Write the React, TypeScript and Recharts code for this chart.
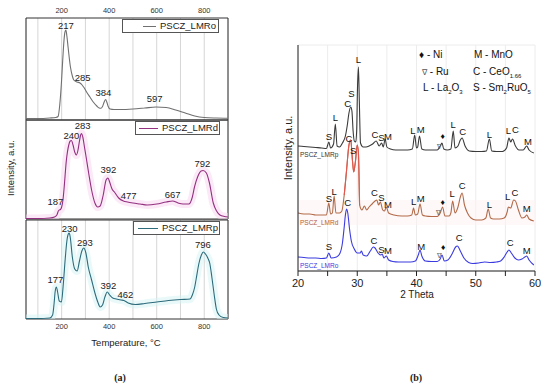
import React from 'react';
import { LineChart, Line, XAxis, YAxis, CartesianGrid, ReferenceArea, ReferenceDot } from 'recharts';

const FONT = '"Liberation Sans", Arial, sans-serif';

// ---------- (a) TPR profiles ----------
const tprTicks = [100, 200, 300, 400, 500, 600, 700, 800];
const tprYTicks = [12.5, 25, 37.5, 50, 62.5, 75, 87.5, 100];

const tempO = [50, 100, 150, 175, 185, 192, 199, 205, 210, 214, 218, 222, 227, 237, 245, 251, 265, 277, 286, 294, 305, 319, 333, 348, 358, 365, 372, 379, 385, 390, 395, 404, 420, 450, 500, 550, 597, 640, 680, 720, 760, 800, 850, 900];
const valO = [1.5, 1.5, 2, 2.5, 3.5, 15, 37, 62, 80, 88, 90, 84, 73, 53, 44, 40, 38, 37, 35, 32.5, 28, 23, 18, 14, 12, 11.7, 13.5, 18, 20.5, 18, 14, 11, 10.5, 10.5, 11, 12, 13, 12.5, 10, 7, 4, 2.5, 2, 1.8];

const tempD = [50, 100, 150, 170, 180, 186, 190, 195, 200, 205, 210, 220, 230, 236, 241, 248, 255, 262, 268, 275, 280, 284, 289, 296, 305, 315, 326, 340, 352, 362, 375, 387, 395, 402, 412, 422, 440, 460, 477, 500, 530, 560, 600, 640, 667, 690, 710, 735, 750, 759, 772, 787, 795, 809, 822, 838, 852, 866, 885, 900];
const valD = [0.5, 0.5, 1, 2, 4, 8, 9, 9.5, 12, 18, 30, 59, 74, 78, 78.5, 74, 67, 64, 68, 78, 84, 85.5, 82, 72, 59, 44, 29, 16, 12, 13, 24, 39, 41, 37, 30, 27, 21, 18, 17, 16, 15, 14, 15, 17, 18, 16, 15, 15, 22, 32, 42, 48, 48.5, 46, 36, 16, 8, 4, 2.5, 2];

const tempP = [50, 100, 150, 162, 168, 173, 178, 183, 190, 199, 207, 215, 222, 228, 232, 236, 245, 255, 265, 275, 285, 293, 302, 312, 326, 340, 352, 362, 372, 382, 392, 402, 415, 430, 450, 462, 480, 510, 550, 600, 650, 700, 740, 750, 760, 766, 778, 788, 796, 805, 815, 823, 832, 842, 851, 862, 880, 900];
const valP = [0.5, 0.5, 1, 4, 15, 28, 32, 27, 18, 17, 35, 60, 78, 85, 86, 82, 62, 50, 48, 58, 68, 71, 66, 52, 39, 26, 17, 12, 14, 22, 27, 24, 21, 20, 19, 18.5, 16, 14.5, 15.5, 17, 18.5, 19.5, 20, 24, 32, 40, 56, 64, 67, 65, 61, 56, 42, 24, 10, 4, 1.5, 1];

// peak annotations: text, temperature, height
const peakTxtO = ['217', '285', '384', '597'];
const peakTO = [218, 288, 376, 591];
const peakVO = [95, 42.7, 27.3, 21.7];
const peakTxtD = ['283', '240', '392', '477', '667', '792', '187'];
const peakTD = [288, 241, 397, 482, 667, 792, 174];
const peakVD = [94, 84, 49.7, 24, 25, 55.7, 18];
const peakTxtP = ['230', '293', '177', '392', '462', '796'];
const peakTP = [234, 298, 174, 397, 468, 794];
const peakVP = [91, 77, 40, 33.5, 24.5, 74.5];

// ---------- (b) XRD patterns ----------
const xrdTicks = [20, 25, 30, 35, 40, 45, 50, 55, 60];
const xrdYTicks = [5, 68, 130, 193];

const thetaP = [20, 21, 22, 23, 24, 24.8, 25.2, 25.5, 26.0, 26.3, 26.6, 27.0, 27.5, 28.0, 28.3, 28.6, 28.9, 29.1, 29.3, 29.5, 29.75, 29.9, 30.05, 30.2, 30.35, 30.55, 31, 31.5, 32, 32.6, 33.2, 33.7, 34.1, 34.4, 34.7, 35.0, 35.6, 36.5, 37.5, 38.5, 39.3, 39.7, 40.0, 40.2, 40.5, 40.9, 41.5, 42.5, 43.5, 44.0, 44.3, 44.6, 45.2, 45.8, 46.2, 46.5, 47.0, 47.4, 47.7, 48.2, 48.9, 50, 51, 51.8, 52.3, 52.7, 53.5, 54.5, 55.2, 55.6, 55.9, 56.2, 56.7, 57.3, 58.0, 58.6, 59.0, 59.8];
const intP = [125, 124.5, 124, 123.5, 123, 122.5, 129, 123, 127, 147, 125, 124, 128, 135, 145, 158, 164, 160, 140, 130, 129, 140, 185, 204, 170, 128, 124, 124, 125, 127, 130, 125, 128, 124, 132, 124, 122, 121, 121, 121, 122, 136, 123, 124, 135, 122, 121, 121, 121, 125, 128, 122, 121, 122, 140, 123, 125, 131, 133, 125, 120, 119.5, 119.5, 120, 132, 120, 119.5, 119.5, 123, 133, 129, 132, 125, 121, 121, 125, 121, 118];

const thetaD = [20, 21, 22, 23, 24, 24.8, 25.2, 25.5, 25.8, 26.1, 26.4, 27.0, 27.4, 27.8, 28.2, 28.6, 28.9, 29.2, 29.4, 29.7, 30.0, 30.2, 30.4, 30.8, 31.2, 31.6, 32.0, 32.5, 33.0, 33.3, 33.6, 33.9, 34.3, 34.6, 34.9, 35.3, 36.2, 37.5, 38.5, 39.2, 39.5, 39.8, 40.2, 40.6, 41.0, 41.5, 42.5, 43.5, 44.0, 44.4, 44.8, 45.5, 45.8, 46.1, 46.5, 47.0, 47.4, 47.7, 48.1, 48.6, 49.2, 50, 51, 51.7, 52.1, 52.5, 53, 54, 54.8, 55.3, 55.5, 55.9, 56.4, 56.7, 57.2, 57.8, 58.3, 58.6, 59.0, 59.8];
const intD = [58, 57, 57, 56, 56, 56, 68, 57, 58, 75, 58, 58, 60, 76, 101, 126, 131, 110, 99, 110, 126, 118, 66, 61, 65, 61, 64, 67, 70, 71, 66, 69, 61, 60, 64, 58, 56, 55, 55, 56, 63, 56, 57, 67, 56, 55, 54.5, 54.5, 58, 64, 55, 55, 58, 70, 58, 64, 74, 78, 66, 58, 53, 51, 51, 53, 62, 53, 52, 52, 53, 59, 64, 63, 71, 70, 61, 53, 54, 56, 52, 50];

const thetaO = [20, 21, 22, 23, 24, 24.8, 25.2, 25.6, 26.5, 27.1, 27.5, 27.8, 28.0, 28.2, 28.4, 28.7, 29.0, 29.5, 30.0, 30.5, 30.7, 31.0, 31.6, 32.2, 32.7, 33.0, 33.5, 34.0, 34.2, 34.5, 34.9, 35.3, 36.0, 37.0, 38.0, 39.0, 39.8, 40.3, 40.6, 40.9, 41.5, 42.5, 43.5, 44.0, 44.3, 44.7, 45.3, 46.0, 46.6, 46.9, 47.4, 48.0, 48.8, 49.5, 50.5, 51.5, 52.5, 53.5, 54.2, 54.8, 55.3, 55.6, 56.0, 56.6, 57.2, 57.8, 58.3, 58.6, 59.0, 59.8];
const intO = [14, 13.5, 13, 13, 12.5, 13, 18, 13, 14, 18, 28, 44, 56, 62, 58, 42, 30, 22, 18, 18, 20, 16, 15, 20, 24, 23, 18, 16, 17, 13, 15, 11, 9.5, 9, 9, 9, 10, 16, 21, 15, 10, 9.5, 9.5, 12, 16, 10, 11, 17, 24, 25, 20, 13, 8.5, 7.5, 8, 9, 8.5, 9, 10, 14, 19, 21, 18, 13, 11, 12, 14, 15, 11, 6];

// phase markers: letter, 2θ, height
const markTxt = ['S', 'L', 'C', 'S', 'L', 'C', 'S', 'M', 'L', 'M', '♦', '∇', 'L', 'C', 'L', 'L', 'C', 'M',
  'S', 'L', 'C', 'S', 'C', 'S', 'M', 'L', 'M', '♦', '∇', 'L', 'C', 'L', 'L', 'C', 'M',
  'S', 'C', 'C', 'S', 'M', 'M', '♦', '∇', 'C', 'C', 'M'];
const markT = [25.2, 26.3, 28.4, 29.0, 30.2, 33.0, 34.1, 35.2, 39.4, 40.7, 44.4, 43.8, 46.2, 47.8, 52.3, 55.5, 56.7, 58.8,
  25.2, 26.1, 28.6, 29.3, 32.9, 34.1, 35.2, 39.5, 40.7, 44.4, 43.7, 46.0, 47.7, 52.3, 55.4, 56.6, 58.6,
  25.2, 28.4, 32.8, 34.1, 35.2, 40.8, 44.5, 43.8, 47.2, 55.8, 58.6];
const markV = [134.3, 153.7, 167.7, 177.7, 211.7, 137, 133.7, 134.3, 140.3, 141.7, 135, 125, 146.7, 139.3, 137, 140.3, 141.7, 129.3,
  72.7, 80, 133, 121, 78.3, 73.7, 66.7, 69.3, 72.7, 69, 58.5, 77.7, 85.3, 67, 75, 78.7, 62.7,
  24.3, 68.7, 31, 21.7, 20.3, 24.3, 24, 15.5, 33.7, 28.3, 20.3];

const zip = (xs: number[], ys: number[]) => xs.map((t, i) => ({ t, v: ys[i] }));

const textShape = (txt: string, size: number, color: string) => (p: any) => (
  <text x={p.cx} y={p.cy} textAnchor="middle" dominantBaseline="central" fontSize={size}
    fill={color} fontFamily={FONT}>{txt}</text>
);

function TprChart({ top, bottom, yMax, temps, vals, color, band, txt, pt, pv, axis }: any) {
  const data = zip(temps, vals);
  const axH = axis ? 16 : 0;
  const mTop = axis === 'top' ? top - axH : top;
  const mBottom = axis === 'bottom' ? 388 - bottom - axH : 388 - bottom;
  return (
    <div style={{ position: 'absolute', left: 0, top: 0 }}>
      <LineChart width={550} height={388} margin={{ top: mTop, left: 26, right: 322, bottom: mBottom }}>
        <CartesianGrid horizontal={false} stroke="#d6d6d6" />
        <XAxis dataKey="t" type="number" domain={[50, 900]} ticks={tprTicks} allowDataOverflow height={axH}
          orientation={axis === 'top' ? 'top' : 'bottom'} axisLine={false} tickLine={false}
          tick={axis ? { fontSize: 7.5, fill: '#333', fontFamily: FONT } : false}
          interval={0}
          tickFormatter={(v: number) => (v % 200 === 0 ? String(v) : '')} tickSize={3} tickMargin={2} />
        <YAxis type="number" domain={[0, yMax]} ticks={tprYTicks.filter((t) => t < yMax)} allowDataOverflow
          width={1} mirror tick={false} axisLine={false} tickLine={{ stroke: '#444' }} tickSize={3} />
        {band && (
          <Line data={data} dataKey="v" type="monotone" stroke={band} strokeWidth={8} strokeOpacity={0.5}
            dot={false} activeDot={false} isAnimationActive={false} />
        )}
        <Line data={data} dataKey="v" type="monotone" stroke={color} strokeWidth={1.1}
          dot={false} activeDot={false} isAnimationActive={false} />
        <ReferenceArea x1={50} x2={900} y1={0} y2={yMax} fill="none" stroke="#333" strokeWidth={1} ifOverflow="visible" />
        {txt.map((s: string, i: number) => (
          <ReferenceDot key={i} x={pt[i]} y={pv[i]} r={0} ifOverflow="visible" shape={textShape(s, 9.5, '#222')} />
        ))}
      </LineChart>
    </div>
  );
}

function LegendBox({ left, top, width, color, name, lineLeft, lineW }: any) {
  return (
    <div style={{ position: 'absolute', left, top, width, height: 12, border: '1px solid #555', background: '#fff',
      fontFamily: FONT, fontSize: 9.5, color: '#222', lineHeight: '12px', whiteSpace: 'nowrap' }}>
      <span style={{ position: 'absolute', left: lineLeft, top: 6, width: lineW, borderTop: `1.2px solid ${color}` }} />
      <span style={{ position: 'absolute', left: lineLeft + lineW + 4, top: 0 }}>{name}</span>
    </div>
  );
}

const abs = (left: number, top: number, extra: any = {}) => ({
  position: 'absolute' as const, left, top, transform: 'translate(-50%, -50%)', whiteSpace: 'nowrap' as const,
  fontFamily: FONT, ...extra,
});

export default function App() {
  const xrdPData = zip(thetaP, intP);
  const xrdDData = zip(thetaD, intD);
  const xrdDRed = xrdDData.filter((d) => d.t >= 27.8 && d.t <= 30.4);
  const xrdOData = zip(thetaO, intO);

  return (
    <div style={{ position: 'absolute', left: 0, top: 0, width: 550, height: 388, background: '#fff', overflow: 'hidden' }}>
      <TprChart top={18} bottom={120} yMax={102} temps={tempO} vals={valO} color="#707070"
        txt={peakTxtO} pt={peakTO} pv={peakVO} axis="top" />
      <TprChart top={120} bottom={219} yMax={99} temps={tempD} vals={valD} color="#93307f" band="#f8d3ef"
        txt={peakTxtD} pt={peakTD} pv={peakVD} />
      <TprChart top={220} bottom={319} yMax={99} temps={tempP} vals={valP} color="#2d6b7b" band="#d3f3f4"
        txt={peakTxtP} pt={peakTP} pv={peakVP} axis="bottom" />

      <div style={{ position: 'absolute', left: 0, top: 0 }}>
        <LineChart width={550} height={388} margin={{ top: 45, left: 297, right: 15, bottom: 97 }}>
          <ReferenceArea x1={20} x2={60} y1={46} y2={71} fill="#fef2f4" stroke="none" />
          <CartesianGrid stroke="#ececec" />
          <XAxis dataKey="t" type="number" domain={[20, 60]} ticks={xrdTicks} allowDataOverflow height={20}
            interval={0} tickSize={5} tickMargin={3} axisLine={{ stroke: '#222' }} tickLine={{ stroke: '#222' }}
            tick={{ fontSize: 11, fill: '#222', fontFamily: FONT }}
            tickFormatter={(v: number) => (v % 10 === 0 ? String(v) : '')} />
          <YAxis type="number" domain={[0, 226]} ticks={xrdYTicks} allowDataOverflow width={1}
            tick={false} tickLine={false} axisLine={{ stroke: '#222' }} />
          <Line data={xrdOData} dataKey="v" type="monotone" stroke="#3b3be0" strokeWidth={1.1}
            dot={false} activeDot={false} isAnimationActive={false} />
          <Line data={xrdDData} dataKey="v" type="monotone" stroke="#b26a48" strokeWidth={1.1}
            dot={false} activeDot={false} isAnimationActive={false} />
          <Line data={xrdDRed} dataKey="v" type="monotone" stroke="#e4574f" strokeWidth={1.1}
            dot={false} activeDot={false} isAnimationActive={false} />
          <Line data={xrdPData} dataKey="v" type="monotone" stroke="#3a3a3a" strokeWidth={1.1}
            dot={false} activeDot={false} isAnimationActive={false} />
          {markTxt.map((s, i) => (
            <ReferenceDot key={i} x={markT[i]} y={markV[i]} r={0} ifOverflow="visible"
              shape={textShape(s, s === '∇' ? 7 : s === '♦' ? 8.5 : 9.5, s === '∇' ? '#666' : '#111')} />
          ))}
        </LineChart>
      </div>

      <LegendBox left={122} top={19} width={95} color="#707070" name="PSCZ_LMRo" lineLeft={20} lineW={13} />
      <LegendBox left={135} top={121} width={83} color="#93307f" name="PSCZ_LMRd" lineLeft={3} lineW={19} />
      <LegendBox left={133} top={221} width={85} color="#2d6b7b" name="PSCZ_LMRp" lineLeft={4} lineW={20} />

      <div style={abs(10, 168, { transform: 'translate(-50%, -50%) rotate(-90deg)', fontSize: 9.5, color: '#222' })}>Intensity, a.u.</div>
      <div style={abs(126, 342, { fontSize: 9.5, color: '#222' })}>Temperature, °C</div>
      <div style={abs(120, 377, { fontFamily: '"Liberation Serif", serif', fontWeight: 'bold', fontSize: 10, color: '#222' })}>(a)</div>

      <div style={abs(288, 148, { transform: 'translate(-50%, -50%) rotate(-90deg)', fontSize: 11, color: '#222' })}>Intensity, a.u.</div>
      <div style={abs(417, 294, { fontSize: 10, color: '#222' })}>2 Theta</div>
      <div style={abs(416, 377, { fontFamily: '"Liberation Serif", serif', fontWeight: 'bold', fontSize: 10, color: '#222' })}>(b)</div>

      <div style={{ position: 'absolute', left: 300, top: 151, fontFamily: FONT, fontSize: 6.5, color: '#333' }}>PSCZ_LMRp</div>
      <div style={{ position: 'absolute', left: 300, top: 219, fontFamily: FONT, fontSize: 6.5, color: '#b5603a' }}>PSCZ_LMRd</div>
      <div style={{ position: 'absolute', left: 300, top: 262, fontFamily: FONT, fontSize: 6.5, color: '#3b3be0' }}>PSCZ_LMRo</div>

      <div style={{ position: 'absolute', left: 0, top: 0, fontFamily: FONT, fontSize: 10, color: '#111', lineHeight: '12px' }}>
        <div style={{ position: 'absolute', left: 419, top: 49, whiteSpace: 'nowrap' }}>♦ - Ni</div>
        <div style={{ position: 'absolute', left: 474, top: 49, whiteSpace: 'nowrap' }}>M - MnO</div>
        <div style={{ position: 'absolute', left: 422, top: 66, whiteSpace: 'nowrap' }}><span style={{ fontSize: 8, color: '#555' }}>∇</span> - Ru</div>
        <div style={{ position: 'absolute', left: 473, top: 66, whiteSpace: 'nowrap' }}>C - CeO<sub style={{ fontSize: 6 }}>1.66</sub></div>
        <div style={{ position: 'absolute', left: 423, top: 82, whiteSpace: 'nowrap' }}>L - La<sub style={{ fontSize: 6 }}>2</sub>O<sub style={{ fontSize: 6 }}>3</sub></div>
        <div style={{ position: 'absolute', left: 473, top: 82, whiteSpace: 'nowrap' }}>S - Sm<sub style={{ fontSize: 6 }}>2</sub>RuO<sub style={{ fontSize: 6 }}>5</sub></div>
      </div>
    </div>
  );
}
